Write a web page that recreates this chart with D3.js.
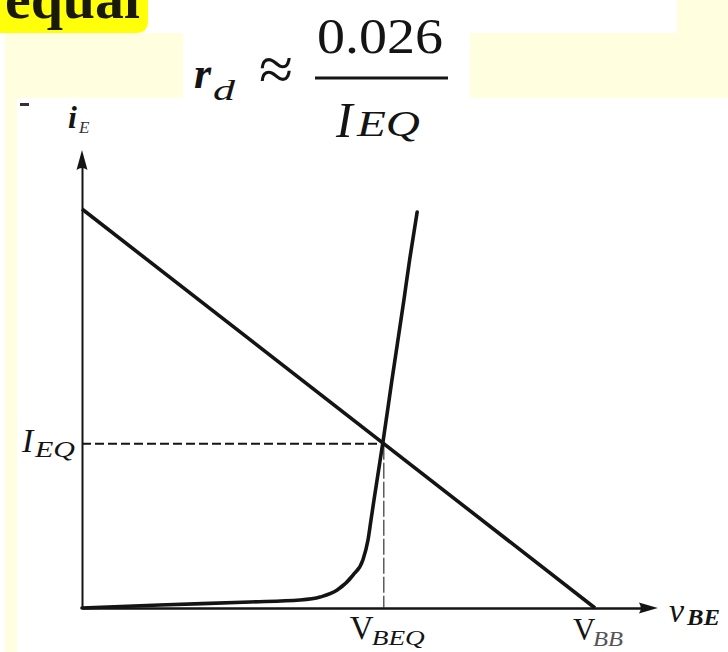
<!DOCTYPE html>
<html>
<head>
<meta charset="utf-8">
<script src="https://cdn.jsdelivr.net/npm/d3@7"></script>
<style>
  html, body { margin: 0; padding: 0; background: #fff; }
  svg { display: block; }
  text { font-family: "Liberation Serif", "Times New Roman", Times, serif; }
</style>
</head>
<body>
<script>
// Emitter-junction characteristic i_E(v_BE): points along the diode curve
const diodeV = [0, 0.182, 0.393, 0.510, 0.557, 0.597, 0.634, 0.657, 0.669, 0.676, 0.683, 0.704, 0.725, 0.753, 0.767, 0.784];
const diodeI = [0, 0.018, 0.036, 0.048, 0.066, 0.108, 0.198, 0.289, 0.409, 0.529, 0.650, 0.998, 1.371, 1.853, 2.105, 2.382];

// Bias load line from (0, V_BB/R) to (V_BB, 0)
const loadV = [0, 1.2];
const loadI = [2.4, 0];

// Operating point and axis extents
const VBB = 1.2;
const VBEQ = 0.706;
const IEQ = 0.988;
const axisMaxV = 1.347;
const axisMaxI = 2.755;

const W = 728, H = 652;
const ink = "#141414";
const paleYellow = "#ffffe0";
const highlight = "#ffff0a";

const svg = d3.select("body").append("svg")
  .attr("width", W).attr("height", H)
  .attr("viewBox", `0 0 ${W} ${H}`);

// ---- slide background blocks ----
const bg = svg.append("g");
bg.append("rect").attr("x", 0).attr("y", 0).attr("width", W).attr("height", H).attr("fill", "#fff");
bg.append("path").attr("d", "M0,0H148V21Q148,33 136,33H0Z").attr("fill", highlight);
bg.append("rect").attr("x", 677).attr("y", 0).attr("width", 51).attr("height", 33).attr("fill", paleYellow);
bg.append("rect").attr("x", 5).attr("y", 33).attr("width", 178).attr("height", 65).attr("fill", paleYellow);
bg.append("rect").attr("x", 470).attr("y", 33).attr("width", 258).attr("height", 65).attr("fill", paleYellow);
bg.append("rect").attr("x", 5).attr("y", 98).attr("width", 12).attr("height", H - 98).attr("fill", paleYellow);

// helper for text runs
function run(x0, y0, str, o = {}) {
  const t = svg.append("text")
    .attr("x", x0).attr("y", y0)
    .attr("font-size", o.size || 30)
    .attr("font-style", o.italic ? "italic" : "normal")
    .attr("font-weight", o.bold ? "bold" : "normal")
    .attr("fill", o.fill || ink)
    .attr("text-anchor", o.anchor || "start")
    .text(str);
  if (o.len) t.attr("textLength", o.len).attr("lengthAdjust", "spacingAndGlyphs");
  return t;
}

// ---- heading word and formula r_d ≈ 0.026 / I_EQ ----
run(5, 18, "equal", { size: 58, bold: true, fill: "#1a1a0a", len: 135 });

run(194, 88, "r", { size: 44, bold: true, italic: true });
run(213, 100, "d", { size: 30, italic: true, len: 22 });
run(276, 90, "≈", { size: 62, anchor: "middle" });
run(317, 53, "0.026", { size: 50, len: 126 });
svg.append("line").attr("x1", 315).attr("x2", 448).attr("y1", 78).attr("y2", 78)
  .attr("stroke", ink).attr("stroke-width", 3);
run(336, 137, "I", { size: 50, italic: true });
run(357, 136, "EQ", { size: 36, italic: true, len: 63 });

// stray dash mark at upper left
svg.append("rect").attr("x", 20).attr("y", 103).attr("width", 9).attr("height", 3).attr("fill", "#333");

// ---- scales ----
const x = d3.scaleLinear().domain([0, VBB]).range([82, 595]);
const y = d3.scaleLinear().domain([0, loadI[0]]).range([608, 209]);

// ---- axes (no ticks; labelled positions drawn separately) ----
const xAxisScale = d3.scaleLinear().domain([0, axisMaxV]).range([x(0), x(axisMaxV) - 10]);
const yAxisScale = d3.scaleLinear().domain([0, axisMaxI]).range([y(0), y(axisMaxI) + 10]);

svg.append("g")
  .attr("transform", `translate(0,${y(0)})`)
  .call(d3.axisBottom(xAxisScale).tickValues([]).tickSizeOuter(0))
  .call(g => g.select(".domain").attr("stroke", ink).attr("stroke-width", 2.4));

svg.append("g")
  .attr("transform", `translate(${x(0)},0)`)
  .call(d3.axisLeft(yAxisScale).tickValues([]).tickSizeOuter(0))
  .call(g => g.select(".domain").attr("stroke", ink).attr("stroke-width", 2));

// arrowheads
const xt = x(axisMaxV), y0 = y(0);
svg.append("path")
  .attr("d", `M${xt},${y0}L${xt - 19},${y0 - 5.5}Q${xt - 15},${y0} ${xt - 19},${y0 + 5.5}Z`)
  .attr("fill", ink);
const yt = y(axisMaxI), x0 = x(0);
svg.append("path")
  .attr("d", `M${x0},${yt}L${x0 + 5.5},${yt + 20}Q${x0},${yt + 16} ${x0 - 5.5},${yt + 20}Z`)
  .attr("fill", ink);

// ---- Q-point projection lines ----
svg.append("line")
  .attr("x1", x(0)).attr("x2", x(VBEQ))
  .attr("y1", y(IEQ)).attr("y2", y(IEQ))
  .attr("stroke", ink).attr("stroke-width", 1.8)
  .attr("stroke-dasharray", "9,4");
svg.append("line")
  .attr("x1", x(VBEQ)).attr("x2", x(VBEQ))
  .attr("y1", y(IEQ)).attr("y2", y(0))
  .attr("stroke", "#333").attr("stroke-width", 1.2)
  .attr("stroke-dasharray", "16,3");

// ---- load line ----
const loadPts = loadV.map((v, k) => [v, loadI[k]]);
svg.append("path")
  .datum(loadPts)
  .attr("d", d3.line().x(d => x(d[0])).y(d => y(d[1])))
  .attr("fill", "none").attr("stroke", ink).attr("stroke-width", 3.6);

// ---- diode characteristic ----
const diodePts = diodeV.map((v, k) => [v, diodeI[k]]);
svg.append("path")
  .datum(diodePts)
  .attr("d", d3.line().x(d => x(d[0])).y(d => y(d[1])).curve(d3.curveMonotoneX))
  .attr("fill", "none").attr("stroke", ink).attr("stroke-width", 3.6)
  .attr("stroke-linecap", "round");

// ---- axis labels ----
run(68, 128, "i", { size: 32, italic: true, bold: true });
run(79, 133, "E", { size: 17, italic: true, fill: "#333" });

run(669, 622, "v", { size: 34, italic: true });
run(687, 625, "BE", { size: 24, italic: true, bold: true, len: 33 });

run(22, 452, "I", { size: 34, italic: true });
run(35, 457, "EQ", { size: 24, italic: true, len: 40 });

run(x(VBEQ) - 34, 639, "V", { size: 33 });
run(x(VBEQ) - 12, 645, "BEQ", { size: 21, italic: true, len: 53 });

run(x(VBB) - 22, 640, "V", { size: 31 });
run(x(VBB) - 2, 646, "BB", { size: 21, italic: true, fill: "#555", len: 30 });
</script>
</body>
</html>
